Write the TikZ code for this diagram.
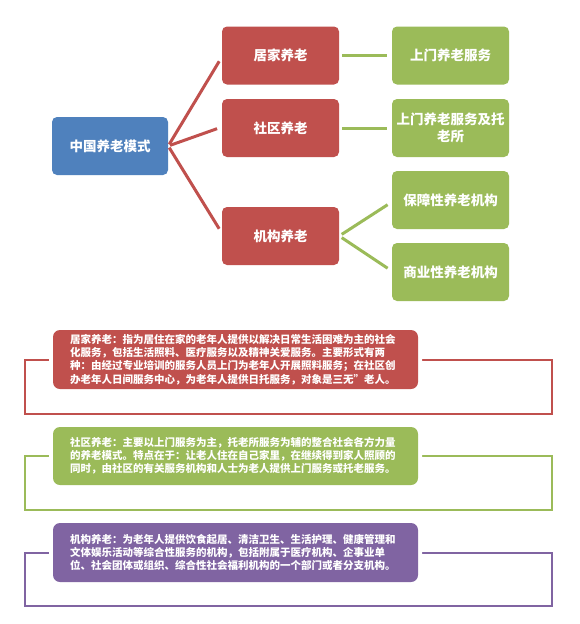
\documentclass[tikz,border=0pt]{standalone}
\usepackage{fontspec}
\setmainfont{Noto Sans CJK SC}
\usetikzlibrary{calc}
\definecolor{oblue}{HTML}{4F81BD}
\definecolor{ored}{HTML}{C0504D}
\definecolor{ogreen}{HTML}{9BBB59}
\definecolor{opurple}{HTML}{8064A2}
\begin{document}
\begin{tikzpicture}[x=1pt,y=-1pt,
  mainbox/.style={rectangle,rounded corners=5pt,minimum width=117pt,minimum height=58pt,
    inner sep=2pt,text=white,font=\fontsize{13.5}{16.7}\selectfont\bfseries,align=center},
  descbox/.style={rectangle,rounded corners=7pt,inner xsep=17pt,inner ysep=0pt,
    text width=331pt,minimum height=58pt,text=white,align=left,
    font=\fontsize{10.5}{13.2}\selectfont\bfseries},
  gap/.style={rectangle,rounded corners=9pt,fill=white,minimum width=373pt,minimum height=66pt},
  redline/.style={draw=ored,line width=3pt},
  greenline/.style={draw=ogreen,line width=3pt},
  frame/.style={line width=2pt}]
\useasboundingbox (0,0) rectangle (579,624);
\fill[white] (0,0) rectangle (579,624);

% top tree
\node[mainbox,fill=oblue,minimum width=116pt] (root) at (110,146) {中国养老模式};
\node[mainbox,fill=ored] (jj) at (280.5,55.5) {居家养老};
\node[mainbox,fill=ored] (sq) at (280.5,128) {社区养老};
\node[mainbox,fill=ored] (jg) at (280.5,236) {机构养老};
\node[mainbox,fill=ogreen] (g1) at (450.5,55.5) {上门养老服务};
\node[mainbox,fill=ogreen] (g2) at (450.5,128) {上门养老服务及托\\老所};
\node[mainbox,fill=ogreen] (g3) at (450.5,200) {保障性养老机构};
\node[mainbox,fill=ogreen] (g4) at (450.5,272) {商业性养老机构};

\draw[redline,shorten <=2pt,shorten >=5pt] (root.east) -- ($(jj.west)+(0,1.5)$);
\draw[redline,shorten <=2pt,shorten >=5pt] (root.east) -- ($(sq.west)+(0,-1)$);
\draw[redline,shorten <=2pt,shorten >=5pt] (root.east) -- ($(jg.west)+(0,-3)$);
\draw[greenline,shorten <=3pt,shorten >=5pt] (jj.east) -- (g1.west);
\draw[greenline,shorten <=3pt,shorten >=5pt] (sq.east) -- (g2.west);
\draw[greenline,shorten <=3pt,shorten >=5pt] (jg.east) -- ($(g3.west)+(0,2)$);
\draw[greenline,shorten <=3pt,shorten >=5pt] (jg.east) -- ($(g4.west)+(0,-1)$);

% description frames
\coordinate (f1a) at (25,360); \coordinate (f1b) at (552,414);
\coordinate (f2a) at (25,456); \coordinate (f2b) at (552,510);
\coordinate (f3a) at (25,553); \coordinate (f3b) at (552,606);
\draw[frame,draw=ored] (f1a) rectangle (f1b);
\draw[frame,draw=ogreen] (f2a) rectangle (f2b);
\draw[frame,draw=opurple] (f3a) rectangle (f3b);

\node[gap] (w1) at (235.5,359.5) {};
\node[gap] (w2) at (235.5,456) {};
\node[gap] (w3) at (235.5,552.5) {};

\node[descbox,fill=ored,minimum height=59pt] (d1) at (w1) {居家养老：指为居住在家的老年人提供以解决日常生活困难为主的社会\\化服务，包括生活照料、医疗服务以及精神关爱服务。主要形式有两\\种：由经过专业培训的服务人员上门为老年人开展照料服务；在社区创\\办老年人日间服务中心，为老年人提供日托服务，对象是三无”老人。};
\node[descbox,fill=ogreen] (d2) at (w2) {社区养老：主要以上门服务为主，托老所服务为辅的整合社会各方力量\\的养老模式。特点在于：让老人住在自己家里，在继续得到家人照顾的\\同时，由社区的有关服务机构和人士为老人提供上门服务或托老服务。};
\node[descbox,fill=opurple,minimum height=59pt] (d3) at (w3) {机构养老：为老年人提供饮食起居、清洁卫生、生活护理、健康管理和\\文体娱乐活动等综合性服务的机构，包括附属于医疗机构、企事业单\\位、社会团体或组织、综合性社会福利机构的一个部门或者分支机构。};
\end{tikzpicture}
\end{document}
